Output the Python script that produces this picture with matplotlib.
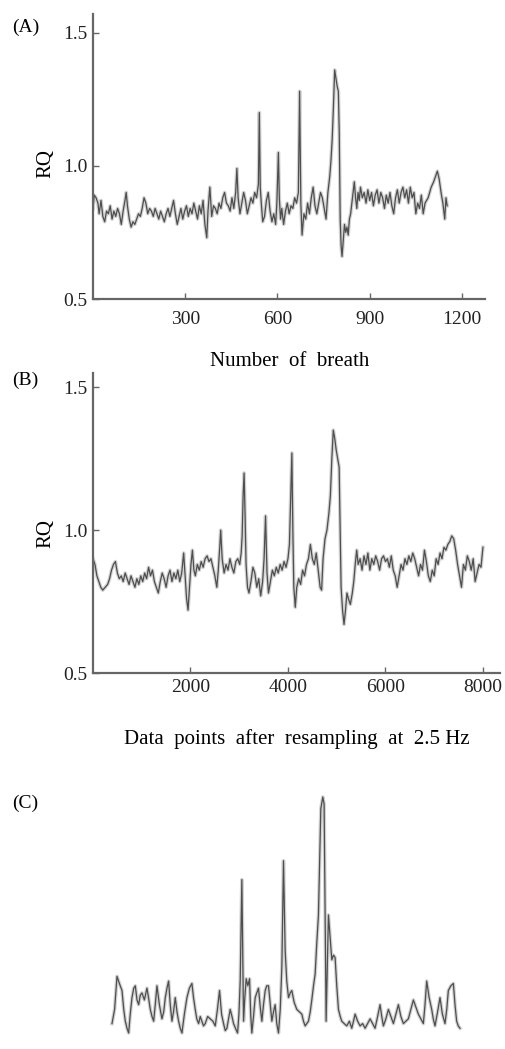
import matplotlib.pyplot as plt

plt.rcParams['font.family'] = ['Liberation Serif', 'DejaVu Serif']

# (A) RQ per breath
breath = [0, 4, 10, 16, 20, 26, 32, 38, 44, 50, 56, 62, 68, 74, 80, 86, 92, 98, 104, 108,
          112, 118, 124, 130, 136, 142, 148, 154, 160, 166, 172, 178, 184, 190, 196, 202,
          208, 214, 220, 226, 232, 238, 244, 250, 256, 262, 268, 274, 280, 286, 292, 298,
          304, 310, 316, 322, 328, 334, 340, 346, 352, 358, 364, 370, 374, 380, 386, 392,
          398, 404, 410, 416, 422, 428, 434, 440, 446, 452, 458, 464, 468, 472, 478, 484,
          490, 496, 502, 508, 514, 520, 526, 532, 538, 541, 544, 548, 552, 558, 564, 570,
          576, 582, 588, 594, 598, 603, 606, 610, 614, 620, 626, 632, 638, 644, 650, 656,
          662, 668, 672, 676, 680, 686, 692, 698, 704, 710, 716, 722, 728, 734, 740, 746,
          752, 758, 764, 770, 774, 778, 782, 786, 790, 794, 798, 801, 804, 807, 810, 814,
          818, 822, 826, 830, 834, 838, 842, 846, 850, 854, 858, 862, 866, 870, 876, 882,
          888, 894, 900, 906, 912, 918, 924, 930, 936, 942, 948, 954, 960, 966, 972, 978,
          984, 990, 996, 1002, 1008, 1014, 1020, 1026, 1032, 1038, 1044, 1050, 1056, 1062,
          1068, 1074, 1080, 1090, 1100, 1108, 1114, 1120, 1126, 1132, 1138, 1144, 1148, 1152]
rq_breath = [0.84, 0.89, 0.88, 0.86, 0.82, 0.87, 0.81, 0.79, 0.83, 0.82, 0.85, 0.80, 0.83, 0.81,
             0.84, 0.82, 0.78, 0.83, 0.87, 0.90, 0.85, 0.80, 0.77, 0.79, 0.78, 0.80, 0.82, 0.81,
             0.84, 0.88, 0.86, 0.82, 0.84, 0.83, 0.81, 0.84, 0.82, 0.80, 0.83, 0.81, 0.79, 0.82,
             0.84, 0.81, 0.84, 0.87, 0.82, 0.78, 0.81, 0.84, 0.80, 0.83, 0.85, 0.81, 0.84, 0.82,
             0.86, 0.83, 0.80, 0.85, 0.82, 0.87, 0.78, 0.73, 0.83, 0.92, 0.81, 0.85, 0.84, 0.82,
             0.86, 0.84, 0.88, 0.90, 0.86, 0.85, 0.83, 0.88, 0.84, 0.90, 0.99, 0.88, 0.82, 0.86,
             0.90, 0.87, 0.82, 0.85, 0.88, 0.86, 0.90, 0.88, 0.93, 1.20, 0.92, 0.85, 0.79, 0.81,
             0.87, 0.90, 0.83, 0.79, 0.82, 0.78, 0.86, 1.05, 0.88, 0.80, 0.84, 0.78, 0.83, 0.86,
             0.82, 0.85, 0.84, 0.88, 0.86, 0.90, 1.28, 0.86, 0.74, 0.82, 0.80, 0.86, 0.82, 0.88,
             0.92, 0.85, 0.82, 0.86, 0.90, 0.88, 0.84, 0.80, 0.90, 0.96, 1.02, 1.10, 1.22, 1.36,
             1.33, 1.30, 1.28, 1.12, 0.80, 0.70, 0.66, 0.72, 0.78, 0.75, 0.77, 0.74, 0.80, 0.82,
             0.86, 0.90, 0.94, 0.88, 0.84, 0.90, 0.87, 0.92, 0.88, 0.90, 0.86, 0.91, 0.87, 0.90,
             0.85, 0.89, 0.91, 0.86, 0.90, 0.88, 0.84, 0.89, 0.86, 0.90, 0.85, 0.82, 0.88, 0.91,
             0.86, 0.90, 0.92, 0.88, 0.91, 0.86, 0.92, 0.88, 0.90, 0.82, 0.86, 0.84, 0.89, 0.82,
             0.86, 0.88, 0.92, 0.94, 0.96, 0.98, 0.95, 0.90, 0.86, 0.80, 0.88, 0.85]

# (B) RQ after resampling at 2.5 Hz
points = [0, 40, 80, 120, 160, 200, 250, 300, 340, 380, 420, 460, 500, 540, 580, 620, 660, 700,
          740, 780, 820, 860, 900, 940, 980, 1020, 1060, 1100, 1140, 1180, 1220, 1260, 1300,
          1340, 1380, 1420, 1460, 1500, 1540, 1580, 1620, 1660, 1700, 1740, 1780, 1820, 1860,
          1890, 1920, 1950, 1980, 2010, 2040, 2070, 2100, 2140, 2180, 2220, 2260, 2300, 2340,
          2380, 2420, 2460, 2500, 2540, 2570, 2600, 2620, 2650, 2690, 2730, 2770, 2810, 2850,
          2890, 2930, 2970, 3010, 3040, 3060, 3080, 3100, 3120, 3140, 3170, 3200, 3240, 3280,
          3320, 3360, 3400, 3440, 3480, 3510, 3540, 3570, 3600, 3640, 3680, 3720, 3760, 3800,
          3840, 3880, 3920, 3960, 4000, 4030, 4060, 4080, 4100, 4120, 4150, 4180, 4220, 4260,
          4300, 4340, 4380, 4420, 4460, 4500, 4540, 4580, 4620, 4660, 4690, 4720, 4760, 4800,
          4840, 4870, 4900, 4930, 4960, 4990, 5020, 5050, 5070, 5090, 5120, 5150, 5180, 5210,
          5240, 5280, 5320, 5350, 5380, 5410, 5440, 5480, 5520, 5560, 5600, 5640, 5680, 5720,
          5760, 5800, 5840, 5880, 5920, 5960, 6000, 6040, 6080, 6120, 6160, 6200, 6240, 6280,
          6320, 6360, 6400, 6440, 6480, 6520, 6560, 6600, 6640, 6680, 6720, 6760, 6800, 6840,
          6880, 6920, 6960, 7000, 7040, 7080, 7120, 7160, 7200, 7240, 7280, 7320, 7360, 7400,
          7440, 7480, 7520, 7560, 7600, 7640, 7680, 7720, 7760, 7800, 7840, 7880, 7920, 7960,
          8000]
rq_points = [0.90, 0.88, 0.84, 0.82, 0.80, 0.79, 0.80, 0.81, 0.83, 0.86, 0.88, 0.89, 0.85, 0.83,
             0.84, 0.82, 0.85, 0.83, 0.81, 0.84, 0.82, 0.80, 0.83, 0.81, 0.84, 0.82, 0.85, 0.83,
             0.87, 0.84, 0.86, 0.82, 0.80, 0.78, 0.82, 0.85, 0.83, 0.80, 0.84, 0.86, 0.82, 0.85,
             0.83, 0.86, 0.82, 0.85, 0.92, 0.84, 0.76, 0.72, 0.80, 0.88, 0.93, 0.86, 0.84, 0.88,
             0.86, 0.89, 0.87, 0.90, 0.91, 0.89, 0.90, 0.87, 0.84, 0.80, 0.86, 0.94, 1.00, 0.90,
             0.85, 0.88, 0.86, 0.90, 0.87, 0.85, 0.89, 0.90, 0.88, 0.92, 0.98, 1.12, 1.20, 1.05,
             0.88, 0.80, 0.78, 0.82, 0.87, 0.85, 0.80, 0.83, 0.77, 0.82, 0.90, 1.05, 0.85, 0.78,
             0.82, 0.86, 0.84, 0.87, 0.85, 0.88, 0.86, 0.89, 0.87, 0.90, 0.95, 1.15, 1.27, 1.00,
             0.80, 0.73, 0.80, 0.83, 0.81, 0.86, 0.84, 0.88, 0.90, 0.95, 0.90, 0.88, 0.92, 0.86,
             0.80, 0.79, 0.90, 0.97, 1.00, 1.06, 1.12, 1.25, 1.35, 1.32, 1.28, 1.25, 1.22, 1.00,
             0.80, 0.72, 0.67, 0.72, 0.78, 0.76, 0.74, 0.78, 0.82, 0.88, 0.93, 0.88, 0.90, 0.86,
             0.91, 0.88, 0.92, 0.86, 0.90, 0.88, 0.91, 0.89, 0.86, 0.90, 0.91, 0.89, 0.90, 0.87,
             0.91, 0.86, 0.84, 0.80, 0.84, 0.88, 0.86, 0.90, 0.88, 0.91, 0.89, 0.92, 0.90, 0.87,
             0.84, 0.88, 0.86, 0.93, 0.89, 0.84, 0.82, 0.86, 0.84, 0.90, 0.88, 0.92, 0.90, 0.94,
             0.93, 0.95, 0.96, 0.98, 0.97, 0.93, 0.88, 0.84, 0.80, 0.88, 0.86, 0.91, 0.89, 0.86,
             0.90, 0.82, 0.85, 0.88, 0.87, 0.94]

# (C) detected signal, arbitrary units
c_x = [0, 60, 115, 170, 230, 270, 306, 345, 383, 420, 460, 500, 536, 575, 613, 650, 689, 745,
       804, 840, 881, 920, 958, 995, 1034, 1090, 1149, 1190, 1226, 1265, 1302, 1340, 1379, 1415,
       1455, 1495, 1532, 1570, 1609, 1665, 1724, 1780, 1838, 1875, 1915, 1950, 1992, 2030, 2068,
       2105, 2145, 2200, 2260, 2320, 2375, 2425, 2474, 2520, 2566, 2605, 2643, 2680, 2719, 2760,
       2796, 2840, 2888, 2920, 2949, 2987, 3026, 3055, 3087, 3125, 3164, 3190, 3217, 3255, 3294,
       3330, 3370, 3410, 3447, 3485, 3524, 3560, 3600, 3640, 3677, 3715, 3753, 3790, 3830, 3870,
       3907, 3945, 3983, 4020, 4060, 4100, 4136, 4190, 4251, 4310, 4366, 4405, 4443, 4480, 4519,
       4560, 4596, 4635, 4673, 4710, 4749, 4803, 4849, 4879, 4925, 4979, 5020, 5056, 5095, 5132,
       5170, 5209, 5250, 5285, 5340, 5400, 5460, 5515, 5555, 5592, 5650, 5707, 5765, 5822, 5880,
       5937, 5995, 6051, 6110, 6166, 6205, 6243, 6300, 6358, 6415, 6473, 6530, 6588, 6645, 6703,
       6760, 6817, 6875, 6932, 6990, 7047, 7105, 7162, 7200, 7239, 7295, 7354, 7390, 7430, 7490,
       7545, 7600, 7660, 7700, 7737, 7795, 7852, 7890, 7928, 7965, 8005]
c_y = [0.04, 0.10, 0.24, 0.21, 0.18, 0.10, 0.05, 0.02, 0.00, 0.08, 0.15, 0.19, 0.20, 0.14, 0.12,
       0.16, 0.17, 0.14, 0.19, 0.15, 0.10, 0.07, 0.05, 0.12, 0.20, 0.12, 0.06, 0.09, 0.15, 0.19,
       0.22, 0.12, 0.05, 0.09, 0.15, 0.09, 0.05, 0.02, 0.00, 0.08, 0.15, 0.19, 0.21, 0.15, 0.10,
       0.06, 0.04, 0.07, 0.05, 0.03, 0.04, 0.07, 0.06, 0.05, 0.03, 0.10, 0.18, 0.08, 0.04, 0.01,
       0.02, 0.06, 0.10, 0.07, 0.04, 0.02, 0.00, 0.08, 0.22, 0.65, 0.05, 0.15, 0.23, 0.20, 0.23,
       0.08, 0.00, 0.07, 0.15, 0.17, 0.19, 0.11, 0.05, 0.12, 0.18, 0.20, 0.20, 0.12, 0.05, 0.09,
       0.12, 0.04, 0.00, 0.10, 0.28, 0.73, 0.35, 0.22, 0.15, 0.17, 0.18, 0.13, 0.10, 0.09, 0.08,
       0.05, 0.03, 0.04, 0.05, 0.09, 0.14, 0.20, 0.25, 0.38, 0.50, 0.95, 1.00, 0.97, 0.05, 0.50,
       0.40, 0.31, 0.33, 0.32, 0.20, 0.10, 0.07, 0.05, 0.04, 0.03, 0.05, 0.02, 0.05, 0.08, 0.05,
       0.03, 0.04, 0.02, 0.04, 0.06, 0.04, 0.02, 0.07, 0.12, 0.07, 0.03, 0.06, 0.10, 0.07, 0.04,
       0.08, 0.12, 0.07, 0.04, 0.05, 0.06, 0.10, 0.14, 0.11, 0.08, 0.06, 0.04, 0.12, 0.22, 0.15,
       0.10, 0.06, 0.03, 0.09, 0.15, 0.08, 0.04, 0.10, 0.18, 0.20, 0.21, 0.12, 0.05, 0.03, 0.02]

W, H = 505, 1049


def box(left, top, right, bottom):
    # pixel box -> figure fraction
    return [left / W, 1 - bottom / H, (right - left) / W, (bottom - top) / H]


def trace(ax, x, y, clip=True):
    # soft grey halo under a thin darker line, like the scanned original
    ax.plot(x, y, color='#b4b4b4', lw=2.6, alpha=0.6, solid_joinstyle='round', clip_on=clip)
    ax.plot(x, y, color='#4e4e4e', lw=0.9, solid_joinstyle='round', clip_on=clip)


def style(ax):
    for s in ['top', 'right']:
        ax.spines[s].set_visible(False)
    for s in ['left', 'bottom']:
        ax.spines[s].set_color('#666666')
        ax.spines[s].set_linewidth(1.6)
    ax.tick_params(direction='in', length=4, width=1, colors='#666666',
                   labelcolor='#222222', labelsize=14)
    ax.set_yticks([0.5, 1.0, 1.5])
    ax.set_yticklabels(['0.5', '1.0', '1.5'])


fig = plt.figure(figsize=(W / 100, H / 100), dpi=100)

axA = fig.add_axes(box(93, 14, 485, 299))
trace(axA, breath, rq_breath)
axA.set_xlim(0, 1275)
axA.set_ylim(0.5, 1.57)
style(axA)
axA.set_xticks([300, 600, 900, 1200])
axA.tick_params(axis='x', pad=9)
axA.tick_params(axis='y', pad=4)

axB = fig.add_axes(box(93, 373, 500, 673))
trace(axB, points, rq_points)
axB.set_xlim(0, 8350)
axB.set_ylim(0.5, 1.55)
style(axB)
axB.set_xticks([2000, 4000, 6000, 8000])
axB.tick_params(axis='x', pad=4)
axB.tick_params(axis='y', pad=4)

axC = fig.add_axes(box(112, 797, 460, 1033))
trace(axC, c_x, c_y, clip=False)
axC.set_xlim(0, 8005)
axC.set_ylim(0, 1)
axC.axis('off')

fig.text(26 / W, 1 - 27 / H, '(A)', fontsize=14, ha='center', va='center')
fig.text(25 / W, 1 - 380 / H, '(B)', fontsize=14, ha='center', va='center')
fig.text(25 / W, 1 - 803 / H, '(C)', fontsize=14, ha='center', va='center')
fig.text(46 / W, 1 - 164 / H, 'RQ', fontsize=15, rotation=90, ha='center', va='center')
fig.text(46 / W, 1 - 533 / H, 'RQ', fontsize=15, rotation=90, ha='center', va='center')
fig.text(290 / W, 1 - 362 / H, 'Number  of  breath', fontsize=15, ha='center', va='center')
fig.text(297 / W, 1 - 739 / H, 'Data  points  after  resampling  at  2.5 Hz', fontsize=15,
         ha='center', va='center')

fig.savefig('out.png', dpi=100)
